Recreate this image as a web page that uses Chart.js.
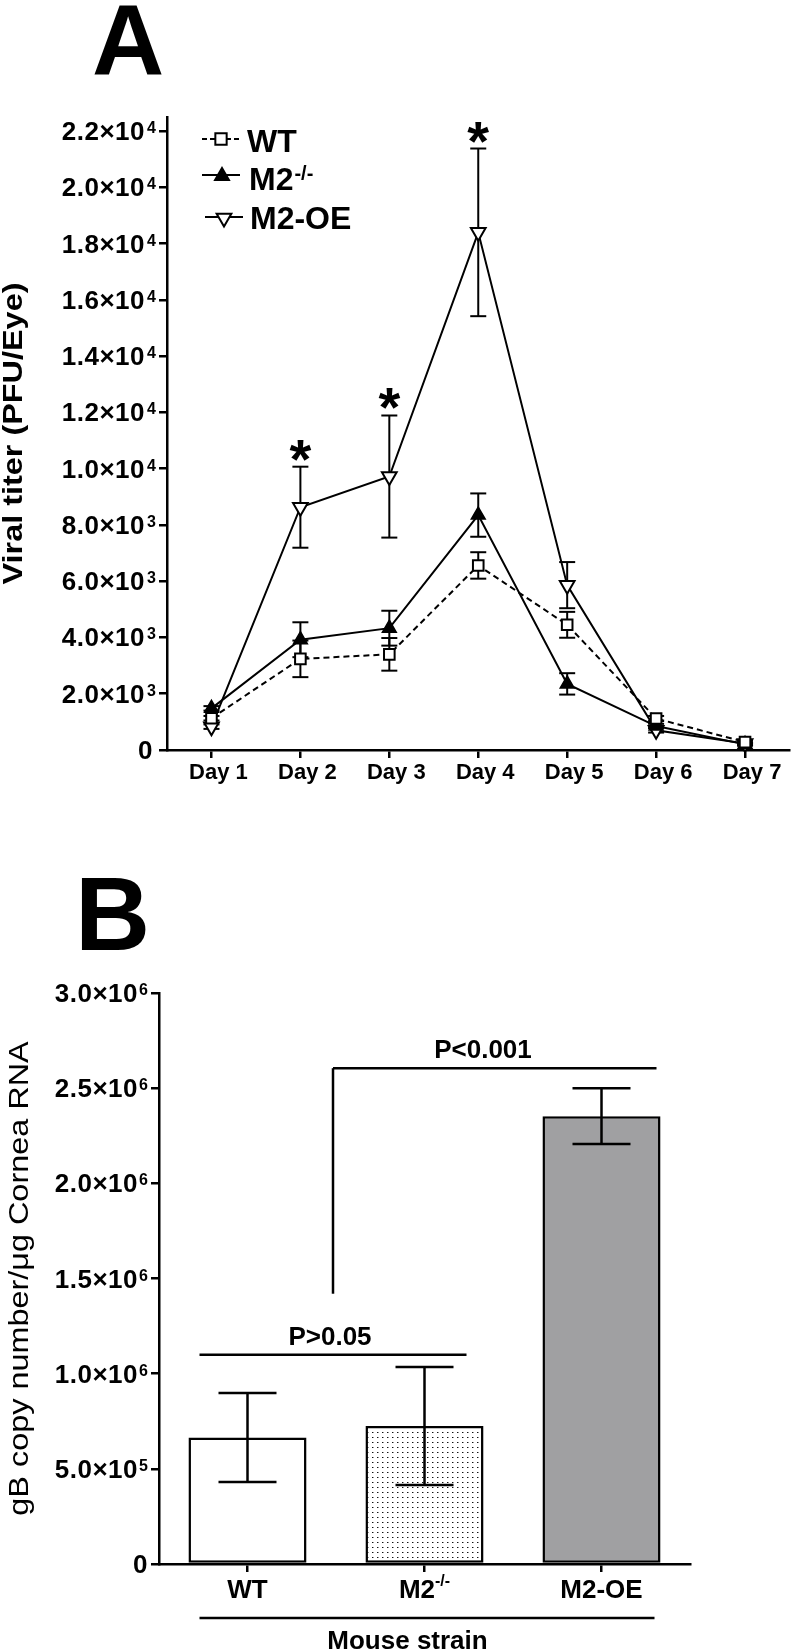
<!DOCTYPE html>
<html>
<head>
<meta charset="utf-8">
<script src="https://cdn.jsdelivr.net/npm/chart.js@4.4.1/dist/chart.umd.min.js"></script>
<style>
    html, body { margin: 0; padding: 0; background: #fff; }
    body { width: 800px; height: 1651px; position: relative; overflow: hidden; }
    #chart-a { position: absolute; left: 0; top: 0; }
    #chart-b { position: absolute; left: 0; top: 800px; }
</style>
</head>
<body>
<canvas id="chart-a" width="800" height="800"></canvas>
<canvas id="chart-b" width="800" height="851"></canvas>
<script>
// panel A: viral titer per day
const days = ['Day 1', 'Day 2', 'Day 3', 'Day 4', 'Day 5', 'Day 6', 'Day 7'];
const wtMean = [1130, 3240, 3400, 6560, 4450, 1120, 280];
const wtErr = [80, 650, 580, 470, 460, 90, 60];
const koMean = [1480, 3920, 4330, 8350, 2350, 850, 200];
const koErr = [80, 620, 620, 770, 380, 80, 50];
const oeMean = [830, 8630, 9720, 18400, 5860, 700, 230];
const oeErr = [80, 1440, 2170, 2980, 820, 80, 50];
const starDays = [1, 2, 3];
const ticksA = [0, 2000, 4000, 6000, 8000, 10000, 12000, 14000, 16000, 18000, 20000, 22000];

// panel B: gB copy number
const strains = ['WT', 'M2-/-', 'M2-OE'];
const gbMean = [665000, 725000, 2353000];
const gbErr = [234000, 310000, 147000];
const ticksB = [0, 500000, 1000000, 1500000, 2000000, 2500000, 3000000];

const FONT = "'Liberation Sans', Arial, sans-serif";

const line = (ctx, x1, y1, x2, y2) => {
    ctx.beginPath();
    ctx.moveTo(x1, y1);
    ctx.lineTo(x2, y2);
    ctx.stroke();
}

// y tick labels like 2.2×10⁴
const drawYLabels = (chart, mainRight, supLeft, zeroRight) => {
    let ctx = chart.ctx;
    let y = chart.scales.y;
    ctx.save();
    ctx.fillStyle = '#000';
    ctx.textBaseline = 'alphabetic';
    y.ticks.forEach((t) => {
        let py = y.getPixelForValue(t.value);
        ctx.letterSpacing = '0.5px';
        ctx.font = `bold 26px ${FONT}`;
        ctx.textAlign = 'right';
        if (t.value === 0) {
            ctx.fillText('0', zeroRight, py + 9);
            return;
        }
        let exp = Math.floor(Math.log10(t.value) + 1e-9);
        let mant = (t.value / Math.pow(10, exp)).toFixed(1);
        ctx.fillText(mant + '×10', mainRight, py + 9);
        ctx.letterSpacing = '0px';
        ctx.font = `bold 16px ${FONT}`;
        ctx.textAlign = 'left';
        ctx.fillText(String(exp), supLeft, py + 2);
    });
    ctx.restore();
}

const drawRotated = (ctx, text, x, y, font, stretch) => {
    ctx.save();
    ctx.translate(x, y);
    ctx.rotate(-Math.PI / 2);
    ctx.scale(stretch, 1);
    ctx.font = font;
    ctx.fillStyle = '#000';
    ctx.textAlign = 'center';
    ctx.textBaseline = 'alphabetic';
    ctx.fillText(text, 0, 0);
    ctx.restore();
}

const drawMarker = (ctx, type, x, y, r) => {
    ctx.save();
    ctx.lineWidth = 2;
    ctx.strokeStyle = '#000';
    ctx.setLineDash([]);
    ctx.beginPath();
    if (type === 'rect') {
        let s = r * Math.SQRT1_2;
        ctx.rect(x - s, y - s, 2 * s, 2 * s);
    } else {
        let rot = type === 'down' ? Math.PI : 0;
        for (let k = 0; k < 3; k++) {
            let a = rot + k * 2 * Math.PI / 3;
            let px = x + Math.sin(a) * r;
            let py = y - Math.cos(a) * r;
            k === 0 ? ctx.moveTo(px, py) : ctx.lineTo(px, py);
        }
        ctx.closePath();
    }
    ctx.fillStyle = type === 'up' ? '#000' : '#fff';
    ctx.fill();
    ctx.stroke();
    ctx.restore();
}

const axisStyle = {
    grid: { offset: false, drawOnChartArea: false, drawTicks: true, tickLength: 8, color: '#000', lineWidth: 2.5 },
    border: { display: true, color: '#000', width: 2.5 }
};

// ---------- panel A ----------
const errA = [wtErr, koErr, oeErr];

const panelA = {
    id: 'panelA',
    beforeDatasetsDraw(chart) {
        let ctx = chart.ctx;
        let x = chart.scales.x;
        let y = chart.scales.y;
        ctx.save();
        ctx.strokeStyle = '#000';
        ctx.lineWidth = 2;
        chart.data.datasets.forEach((ds, di) => {
            ds.data.forEach((v, i) => {
                let px = x.getPixelForValue(i);
                let top = y.getPixelForValue(v + errA[di][i]);
                let bot = y.getPixelForValue(Math.max(0, v - errA[di][i]));
                line(ctx, px, top, px, bot);
                line(ctx, px - 8, top, px + 8, top);
                line(ctx, px - 8, bot, px + 8, bot);
            });
        });
        ctx.restore();
    },
    afterDraw(chart) {
        let ctx = chart.ctx;
        let x = chart.scales.x;
        let y = chart.scales.y;
        let area = chart.chartArea;

        ctx.save();
        ctx.fillStyle = '#000';
        ctx.font = `bold 100px ${FONT}`;
        ctx.textAlign = 'left';
        ctx.textBaseline = 'alphabetic';
        ctx.fillText('A', 92, 75);

        // significance stars
        ctx.font = `bold 56px ${FONT}`;
        ctx.textAlign = 'center';
        starDays.forEach((i) => {
            let top = y.getPixelForValue(oeMean[i] + oeErr[i]);
            ctx.fillText('*', x.getPixelForValue(i), top + 11);
        });

        // legend
        ctx.strokeStyle = '#000';
        ctx.lineWidth = 2;
        ctx.setLineDash([5, 3]);
        line(ctx, 202, 139, 240, 139);
        ctx.setLineDash([]);
        line(ctx, 202, 175, 240, 175);
        line(ctx, 205, 217, 243, 217);
        drawMarker(ctx, 'rect', 221, 139, 8);
        drawMarker(ctx, 'up', 222, 176, 8);
        drawMarker(ctx, 'down', 224, 218, 8.5);

        ctx.font = `bold 32px ${FONT}`;
        ctx.textAlign = 'left';
        ctx.fillText('WT', 247, 152);
        ctx.fillText('M2', 249, 190);
        let w = ctx.measureText('M2').width;
        ctx.fillText('M2-OE', 250, 229);
        ctx.font = `bold 20px ${FONT}`;
        ctx.fillText('-/-', 249 + w + 1, 180);
        ctx.restore();

        drawYLabels(chart, 145, 147, 153);
        drawRotated(ctx, 'Viral titer (PFU/Eye)', 22, (area.top + area.bottom) / 2, `bold 27px ${FONT}`, 1.2);
    }
};

new Chart(document.getElementById('chart-a'), {
    type: 'line',
    data: {
        labels: days,
        datasets: [
            {
                label: 'WT', data: wtMean, borderColor: '#000', borderWidth: 2, borderDash: [6, 4],
                pointStyle: 'rect', pointRadius: 7.5, pointBackgroundColor: '#fff',
                pointBorderColor: '#000', pointBorderWidth: 2, tension: 0, clip: false
            },
            {
                label: 'M2-/-', data: koMean, borderColor: '#000', borderWidth: 2,
                pointStyle: 'triangle', pointRadius: 8, pointBackgroundColor: '#000',
                pointBorderColor: '#000', pointBorderWidth: 1.5, tension: 0, clip: false
            },
            {
                label: 'M2-OE', data: oeMean, borderColor: '#000', borderWidth: 2,
                pointStyle: 'triangle', pointRotation: 180, pointRadius: 8.5, pointBackgroundColor: '#fff',
                pointBorderColor: '#000', pointBorderWidth: 2, tension: 0, clip: false
            }
        ]
    },
    options: {
        responsive: false,
        animation: false,
        layout: { padding: { top: 117, right: 2, left: 0, bottom: 0 } },
        plugins: { legend: { display: false }, tooltip: { enabled: false } },
        scales: {
            x: {
                type: 'category',
                offset: true,
                ...axisStyle,
                ticks: {
                    color: '#000', font: { family: FONT, size: 22, weight: 'bold' },
                    padding: 2, labelOffset: 7, maxRotation: 0, autoSkip: false
                },
                afterFit: (s) => { s.height = 50; }
            },
            y: {
                min: 0,
                max: 22500,
                ...axisStyle,
                ticks: { display: false },
                afterBuildTicks: (s) => { s.ticks = ticksA.map((v) => ({ value: v })); },
                afterFit: (s) => { s.width = 167; }
            }
        }
    },
    plugins: [panelA]
});

// ---------- panel B ----------
const elB = document.getElementById('chart-b');
const ctxB = elB.getContext('2d');
const tile = document.createElement('canvas');
tile.width = 5;
tile.height = 5;
let tc = tile.getContext('2d');
tc.fillStyle = '#fff';
tc.fillRect(0, 0, 5, 5);
tc.fillStyle = '#999';
tc.fillRect(2, 2, 2, 1);
tc.fillStyle = '#111';
tc.fillRect(2, 2, 1, 1);
const dots = ctxB.createPattern(tile, 'repeat');

const panelB = {
    id: 'panelB',
    afterDatasetsDraw(chart) {
        let ctx = chart.ctx;
        let x = chart.scales.x;
        let y = chart.scales.y;
        ctx.save();
        ctx.strokeStyle = '#000';
        ctx.lineWidth = 2.5;
        gbMean.forEach((v, i) => {
            let px = x.getPixelForValue(i);
            let top = y.getPixelForValue(v + gbErr[i]);
            let bot = y.getPixelForValue(v - gbErr[i]);
            line(ctx, px, top, px, bot);
            line(ctx, px - 29, top, px + 29, top);
            line(ctx, px - 29, bot, px + 29, bot);
        });
        ctx.restore();
    },
    afterDraw(chart) {
        let ctx = chart.ctx;
        let x = chart.scales.x;
        let y = chart.scales.y;
        let area = chart.chartArea;
        let xs = strains.map((s, i) => x.getPixelForValue(i));

        ctx.save();
        ctx.fillStyle = '#000';
        ctx.strokeStyle = '#000';
        ctx.textBaseline = 'alphabetic';
        ctx.font = `bold 104px ${FONT}`;
        ctx.textAlign = 'left';
        ctx.fillText('B', 75, 150);

        // category labels
        ctx.font = `bold 26px ${FONT}`;
        ctx.textAlign = 'center';
        ctx.fillText('WT', xs[0], 798);
        ctx.fillText('M2-OE', xs[2], 798);
        ctx.textAlign = 'left';
        let wMain = ctx.measureText('M2').width;
        ctx.font = `bold 16px ${FONT}`;
        let wSup = ctx.measureText('-/-').width;
        let x0 = xs[1] - (wMain + wSup) / 2;
        ctx.fillText('-/-', x0 + wMain, 786);
        ctx.font = `bold 26px ${FONT}`;
        ctx.fillText('M2', x0, 798);

        // brackets
        ctx.lineWidth = 2.5;
        let yNs = y.getPixelForValue(1100000);
        line(ctx, xs[0] - 48, yNs, xs[1] + 42, yNs);
        ctx.textAlign = 'center';
        ctx.fillText('P>0.05', (xs[0] + xs[1]) / 2 - 6, yNs - 10);

        let ySig = y.getPixelForValue(2605000);
        let xSig = (xs[0] + xs[1]) / 2 - 3;
        line(ctx, xSig, ySig, xs[2] + 55, ySig);
        line(ctx, xSig, ySig, xSig, y.getPixelForValue(1420000));
        ctx.fillText('P<0.001', (xs[1] + xs[2]) / 2 - 30, ySig - 10);

        // group line and axis name
        let yGroup = area.bottom + 54;
        line(ctx, xs[0] - 48, yGroup, xs[2] + 53, yGroup);
        ctx.fillText('Mouse strain', xs[1] - 17, 848.5);
        ctx.restore();

        drawYLabels(chart, 138, 139, 148);
        drawRotated(ctx, 'gB copy number/\u03bcg Cornea RNA', 27.5, (area.top + area.bottom) / 2, `27px ${FONT}`, 1.2);
    }
};

new Chart(elB, {
    type: 'bar',
    data: {
        labels: strains,
        datasets: [
            {
                data: gbMean,
                backgroundColor: ['#fff', dots, '#a0a0a2'],
                borderColor: '#000',
                borderWidth: 2.5,
                borderSkipped: false,
                barPercentage: 0.667,
                categoryPercentage: 1
            }
        ]
    },
    options: {
        responsive: false,
        animation: false,
        layout: { padding: { top: 193, right: 110, left: 0, bottom: 0 } },
        plugins: { legend: { display: false }, tooltip: { enabled: false } },
        scales: {
            x: {
                offset: true,
                ...axisStyle,
                ticks: { display: false },
                afterFit: (s) => { s.height = 87; }
            },
            y: {
                min: 0,
                max: 3000000,
                ...axisStyle,
                ticks: { display: false },
                afterBuildTicks: (s) => { s.ticks = ticksB.map((v) => ({ value: v })); },
                afterFit: (s) => { s.width = 159; }
            }
        }
    },
    plugins: [panelB]
});
</script>
</body>
</html>
